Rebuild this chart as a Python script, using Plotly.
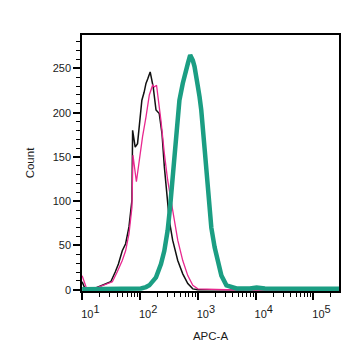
import plotly.graph_objects as go

# ---- data (APC-A value, count) ----
black_x = [9.9, 11.3, 17, 25, 31, 37, 42, 49, 56, 64, 72, 74, 82, 90, 99, 107, 117, 126, 135, 149,
           168, 188, 214, 239, 262, 287, 320, 365, 447, 546, 667, 815, 995, 3000, 280000]
black_y = [9, 0, 2, 7, 9, 20, 29, 44, 52, 71, 101, 180, 161, 165, 195, 214, 223, 233, 238, 246,
           229, 203, 199, 176, 139, 109, 78, 56, 33, 18, 7, 1, 0, 0, 0]

pink_x = [9.9, 12, 19, 27, 33, 40, 49, 56, 64, 72, 75, 86, 96, 110, 126, 144, 164, 176, 192, 200,
          220, 229, 262, 299, 342, 391, 447, 546, 667, 815, 995, 3000, 280000]
pink_y = [16, 0, 3, 7, 9, 20, 33, 44, 63, 93, 152, 122, 145, 173, 195, 220, 231, 229, 231, 222,
          203, 191, 154, 124, 101, 78, 56, 33, 16, 5, 1, 0, 0]

green_x = [9.9, 50, 84, 103, 126, 144, 188, 229, 262, 299, 329, 365, 407, 478, 546, 584, 625, 672,
           734, 764, 815, 873, 934, 995, 1066, 1141, 1302, 1394, 1486, 1706, 1946, 2084, 2223,
           2548, 3113, 4647, 7925, 10370, 14450, 280000]
green_y = [0.5, 0.5, 1, 1.5, 3, 5, 14, 29, 44, 67, 93, 131, 169, 214, 233, 242, 252, 256,
           265, 263, 259, 252, 237, 230, 218, 203, 160, 139, 110, 70, 48, 41, 32,
           16, 5, 1.5, 1.5, 2.5, 1.5, 1]

x_tickvals = [10, 100, 1000, 10000, 100000]
x_exponents = ["1", "2", "3", "4", "5"]
x_ticktext = ["10<sup><span style='font-size:11px'>%s</span></sup>" % e for e in x_exponents]
y_tickvals = [0, 50, 100, 150, 200, 250]
y_ticktext = ["0", "50", "100", "150", "200", "250"]

fig = go.Figure()
fig.add_trace(go.Scatter(x=black_x, y=black_y, mode="lines",
                         line=dict(color="#111111", width=1.5), name="black"))
fig.add_trace(go.Scatter(x=pink_x, y=pink_y, mode="lines",
                         line=dict(color="#e8288f", width=1.3), name="pink"))
fig.add_trace(go.Scatter(x=green_x, y=green_y, mode="lines",
                         line=dict(color="#1b9e83", width=4.5), name="green"))

font = "Liberation Sans, Arial, sans-serif"
txt = "#1a1a1a"
fig.update_layout(
    width=359, height=359,
    margin=dict(l=82, r=20, t=35, b=68),
    paper_bgcolor="white", plot_bgcolor="white",
    showlegend=False,
    font=dict(family=font, size=11, color=txt),
)
fig.update_xaxes(
    type="log", range=[0.993, 5.442],
    tickmode="array", tickvals=x_tickvals, ticktext=x_ticktext,
    ticks="outside", ticklen=7, tickwidth=1.5, tickcolor="black",
    showline=True, linecolor="black", linewidth=1.5, mirror=True,
    showgrid=False, zeroline=False,
    tickfont=dict(size=11, color=txt),
    ticklabelstandoff=5, ticklabelshift=8,
    minor=dict(ticks="outside", ticklen=4, tickwidth=1, tickcolor="black", dtick="D1", showgrid=False),
    title=dict(text="APC-A", font=dict(size=11.5, color=txt), standoff=13),
)
fig.update_yaxes(
    range=[-1.4, 287.7],
    tickmode="array", tickvals=y_tickvals, ticktext=y_ticktext,
    ticks="outside", ticklen=7, tickwidth=1.5, tickcolor="black",
    showline=True, linecolor="black", linewidth=1.5, mirror=True,
    showgrid=False, zeroline=False,
    tickfont=dict(size=11, color=txt),
    minor=dict(ticks="outside", ticklen=4, tickwidth=1, tickcolor="black", dtick=10, showgrid=False),
    title=dict(text="Count", font=dict(size=11.5, color=txt), standoff=16),
)
fig.write_html("out.html")
